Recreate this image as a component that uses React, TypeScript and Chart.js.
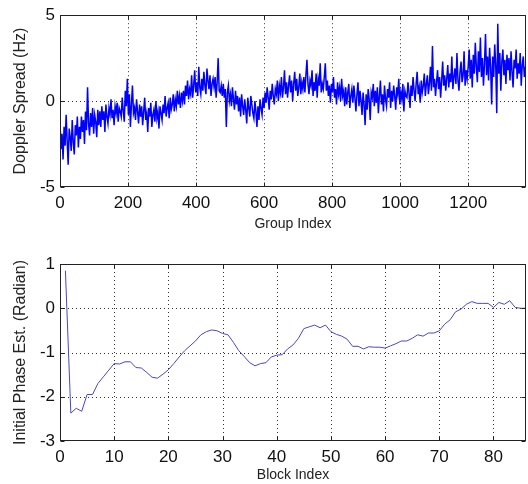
import React, { useEffect, useRef } from "react";
import { Chart, registerables } from "chart.js";

Chart.register(...registerables);

// ---------- data ----------
const GROUP_STEP = 3; // group index spacing of the sampled Doppler spread values
const GROUP_MAX = 1370;
const groupTicks = [0, 200, 400, 600, 800, 1000, 1200];
const dopplerTicks = [-5, 0, 5];

const dopplerSpread = [
  -1.2, -2.8, -1.9, -3.4, -1.5, -2.6, -0.8, -2.3, -3.7, -1.6, -2.1, -2.9, -1.1, -2.4, -3.1, -1.4, -2.0, -0.9, -2.7, -1.5,
  -2.2, -0.9, -1.8, -1.1, -2.5, -0.6, -1.7, 0.8, -1.3, -2.0, -0.7, -1.5, -0.4, -1.9, -0.8, -1.2, -2.1, -0.5, -1.4, -0.6,
  -1.5, -0.3, -1.1, -0.6, -1.8, -0.2, -0.9, -1.3, -0.4, -0.8, 0.1, -1.0, -0.5, -1.4, -0.3, -0.7, -0.1, -1.2, -0.4, -0.6,
  -0.9, 0.2, -0.6, -1.2, 0.6, -0.3, 1.3, -0.8, 0.4, -1.5, -0.2, 0.9, -0.7, -0.4, -1.1, 0.1, -0.6, -1.3, -0.2, -0.9,
  -0.3, -1.4, -0.6, 0.2, -1.1, -0.7, -1.8, -0.4, -0.9, -0.1, -1.5, -0.8, -0.5, -1.2, 0.0, -1.0, -0.6, -1.6, -0.3, -0.7,
  -1.1, -0.2, -0.7, 0.3, -0.9, -0.4, -0.1, -1.0, 0.2, -0.5, -0.2, 0.4, -0.6, 0.1, -0.3, 0.6, -0.2, 0.3, -0.4, 0.5,
  0.0, 0.6, -0.2, 0.9, 0.3, 1.2, 0.1, 0.7, 0.4, 1.5, 0.2, 0.9, 1.8, 0.5, 1.1, 0.3, 2.0, 0.8, 0.4, 1.3,
  0.6, 1.7, 0.9, 0.4, 1.9, 1.2, 0.7, 1.5, 0.3, 1.0, 1.3, 0.8, 1.4, 0.2, 1.1, 2.5, 0.6, 0.5, 0.9, 0.3,
  1.0, 0.2, 0.7, -1.5, 0.5, 0.9, 0.0, 0.4, -0.3, 0.8, 0.1, -0.5, 0.6, -0.2, 0.3, -0.6, 0.2, -0.9, 0.4, -0.3,
  -0.8, 0.1, -0.5, -1.3, 0.2, -0.4, -0.9, 0.3, -0.2, -0.7, -1.0, 0.0, -0.6, -1.5, -0.3, -1.1, 0.1, -0.4, -0.8, 0.2,
  -0.4, 0.5, -0.1, 0.8, 0.2, -0.5, 0.6, 0.1, 1.0, 0.3, -0.2, 0.7, 0.4, 1.2, 0.0, 0.9, 0.5, 1.4, 0.2, 0.8,
  1.8, 0.4, 1.1, 0.2, 0.9, 1.5, 0.5, 1.2, 0.0, 1.0, 1.7, 0.6, 1.3, 0.3, 0.8, 1.6, 0.4, 1.1, 0.7, 1.4,
  0.5, 1.5, 2.4, 1.0, 0.4, 1.2, 0.9, 1.8, 0.3, 1.1, 0.6, 1.6, 0.2, 1.3, 0.9, 2.2, 0.5, 1.0, 0.7, 1.4,
  2.2, 0.6, 1.2, 0.3, 0.9, -0.1, 1.0, 0.5, 1.4, 0.2, 0.7, -0.2, 1.1, 0.4, 0.8, 0.0, 1.3, 0.3, 0.6, -0.3,
  0.8, -0.2, 0.5, 1.0, -0.4, 0.3, 0.7, -0.1, 0.9, 0.2, -0.6, 0.4, 1.1, -0.3, 0.6, 0.0, -0.8, 0.5, -0.2, -1.4,
  0.4, -0.5, 0.7, 0.1, -1.1, 0.5, 0.2, 1.0, -0.3, 0.6, -0.1, 0.8, -0.7, 0.3, 1.2, -0.2, 0.4, -0.6, 0.9, 0.1,
  -0.3, 0.7, 0.2, 1.1, -0.4, 0.6, 0.0, 0.9, 0.3, -0.5, 0.8, 0.4, 1.3, -0.2, 0.5, 0.1, 1.0, -0.6, 0.6, 0.3,
  0.2, 1.1, 0.5, -0.4, 0.9, 0.3, 1.4, 0.6, 0.0, 1.0, 1.7, 0.4, 0.8, -0.1, 1.2, 0.5, 0.9, 1.6, 0.3, 1.0,
  1.5, 0.4, 1.0, 2.0, 0.6, 3.2, 0.8, 1.3, 0.3, 1.1, 1.8, 0.7, 1.4, 0.2, 1.2, 2.3, 0.9, 1.5, 0.6, 1.3,
  2.1, 0.8, 1.6, 1.1, 2.6, 0.7, 1.4, 1.9, 1.0, 2.8, 1.2, 0.6, 1.7, 2.3, 1.1, 1.5, 2.9, 0.9, 1.8, 1.3,
  2.0, 3.0, 1.3, 2.4, 0.8, 2.7, 1.6, 3.4, 2.0, 1.1, 2.9, 1.7, 3.7, 1.4, 2.5, 0.9, 2.2, 3.9, 1.5, 2.6,
  1.2, 3.1, 2.0, -0.2, 2.6, 1.4, 3.3, 2.1, -0.7, 4.5, 1.6, 2.8, 0.6, 2.3, 3.0, 1.5, 2.4, 1.0, 2.7, 1.8,
  2.5, 1.2, 2.9, 1.7, 0.8, 2.4, 1.9, 3.0, 1.3, 2.2, 1.6, 2.8, 0.9, 2.1, 2.6, 1.4, 2.0,
];

const BLOCK_MAX = 86;
const blockTicks = [0, 10, 20, 30, 40, 50, 60, 70, 80];
const phaseTicks = [-3, -2, -1, 0, 1];
const initialPhase = [
  0.85, -2.37, -2.26, -2.33, -1.95, -1.95, -1.7, -1.55, -1.4, -1.25,
  -1.26, -1.21, -1.21, -1.34, -1.35, -1.45, -1.56, -1.58, -1.49, -1.39,
  -1.25, -1.1, -0.96, -0.85, -0.74, -0.6, -0.53, -0.49, -0.51, -0.57,
  -0.6, -0.77, -0.96, -1.09, -1.23, -1.3, -1.25, -1.23, -1.1, -1.06,
  -1.05, -0.92, -0.83, -0.68, -0.46, -0.42, -0.38, -0.44, -0.38, -0.53,
  -0.59, -0.63, -0.7, -0.86, -0.86, -0.92, -0.87, -0.88, -0.88, -0.9,
  -0.85, -0.8, -0.74, -0.74, -0.68, -0.6, -0.63, -0.56, -0.56, -0.51,
  -0.36, -0.26, -0.08, -0.02, 0.09, 0.15, 0.11, 0.11, 0.11, 0.02,
  0.13, 0.09, 0.17, 0.02, 0.0, 0.0,
];

// ---------- styling ----------
const FONT = "'Liberation Sans', Arial, Helvetica, sans-serif";
const AXIS_COLOR = "#222";

const matlabAxesPlugin = {
  id: "matlabAxes",
  beforeDatasetsDraw(chart: any) {
    const { ctx, chartArea: a, scales } = chart;
    ctx.save();
    ctx.strokeStyle = "#333";
    ctx.lineWidth = 1;
    ctx.setLineDash([1, 3]);
    scales.x.ticks.forEach((t: any) => {
      const px = Math.round(scales.x.getPixelForValue(t.value)) + 0.5;
      if (px <= a.left + 1.5 || px >= a.right - 1.5) return;
      ctx.beginPath();
      ctx.moveTo(px, a.top);
      ctx.lineTo(px, a.bottom);
      ctx.stroke();
    });
    scales.y.ticks.forEach((t: any) => {
      const py = Math.round(scales.y.getPixelForValue(t.value)) + 0.5;
      if (py <= a.top + 1.5 || py >= a.bottom - 1.5) return;
      ctx.beginPath();
      ctx.moveTo(a.left, py);
      ctx.lineTo(a.right, py);
      ctx.stroke();
    });
    ctx.restore();
  },
  afterDraw(chart: any) {
    const { ctx, chartArea: a, scales } = chart;
    ctx.save();
    ctx.strokeStyle = AXIS_COLOR;
    ctx.lineWidth = 1;
    ctx.setLineDash([]);
    const l = Math.round(a.left) + 0.5;
    const r = Math.round(a.right) - 0.5;
    const t = Math.round(a.top) + 0.5;
    const b = Math.round(a.bottom) - 0.5;
    ctx.strokeRect(l, t, r - l, b - t);
    const len = 4;
    scales.x.ticks.forEach((tk: any) => {
      const px = Math.round(scales.x.getPixelForValue(tk.value)) + 0.5;
      ctx.beginPath();
      ctx.moveTo(px, b);
      ctx.lineTo(px, b - len);
      ctx.moveTo(px, t);
      ctx.lineTo(px, t + len);
      ctx.stroke();
    });
    scales.y.ticks.forEach((tk: any) => {
      const py = Math.round(scales.y.getPixelForValue(tk.value)) + 0.5;
      ctx.beginPath();
      ctx.moveTo(l, py);
      ctx.lineTo(l + len, py);
      ctx.moveTo(r, py);
      ctx.lineTo(r - len, py);
      ctx.stroke();
    });
    ctx.restore();
  },
};

function makeOptions(p: {
  xMax: number;
  xTicks: number[];
  yTicks: number[];
  xTitle: string;
  yTitle: string;
  xAxisHeight: number;
  xTitlePadBottom: number;
  padTop: number;
}) {
  const tickFont = { family: FONT, size: 17 };
  return {
    responsive: false,
    animation: false,
    devicePixelRatio: 1,
    events: [],
    layout: { padding: { top: p.padTop, right: 2, left: 0, bottom: 0 } },
    plugins: { legend: { display: false }, tooltip: { enabled: false } },
    elements: { point: { radius: 0 }, line: { tension: 0 } },
    scales: {
      x: {
        type: "linear",
        min: 0,
        max: p.xMax,
        grid: { display: false, drawTicks: false },
        border: { display: false },
        ticks: {
          autoSkip: false,
          maxRotation: 0,
          padding: 6,
          font: tickFont,
          color: "#111",
          callback: (v: number) => String(v),
        },
        afterBuildTicks(s: any) {
          s.ticks = p.xTicks.map((v) => ({ value: v }));
        },
        title: {
          display: true,
          text: p.xTitle,
          color: AXIS_COLOR,
          font: { family: FONT, size: 14 },
          padding: { top: 0, bottom: p.xTitlePadBottom },
        },
        afterFit(s: any) {
          s.height = p.xAxisHeight;
        },
      },
      y: {
        type: "linear",
        min: p.yTicks[0],
        max: p.yTicks[p.yTicks.length - 1],
        grid: { display: false, drawTicks: false },
        border: { display: false },
        ticks: {
          autoSkip: false,
          padding: 5,
          font: tickFont,
          color: "#111",
          callback: (v: number) => String(v),
        },
        afterBuildTicks(s: any) {
          s.ticks = p.yTicks.map((v) => ({ value: v }));
        },
        title: {
          display: true,
          text: p.yTitle,
          color: AXIS_COLOR,
          font: { family: FONT, size: 16 },
          padding: { top: 11, bottom: 0 },
        },
        afterFit(s: any) {
          s.width = 60;
        },
      },
    },
  };
}

function DopplerChart() {
  const ref = useRef<HTMLCanvasElement | null>(null);
  useEffect(() => {
    if (!ref.current) return;
    const data = dopplerSpread.map((v, i) => ({ x: i * GROUP_STEP, y: v }));
    const chart = new Chart(ref.current, {
      type: "line",
      data: {
        datasets: [
          {
            data,
            borderColor: "#0000ff",
            borderWidth: 1.5,
            pointRadius: 0,
            fill: false,
          },
        ],
      },
      options: makeOptions({
        xMax: GROUP_MAX,
        xTicks: groupTicks,
        yTicks: dopplerTicks,
        xTitle: "Group Index",
        yTitle: "Doppler Spread (Hz)",
        xAxisHeight: 53,
        xTitlePadBottom: 7,
        padTop: 13,
      }) as any,
      plugins: [matlabAxesPlugin],
    });
    return () => chart.destroy();
  }, []);
  return (
    <canvas
      ref={ref}
      width={528}
      height={240}
      style={{ position: "absolute", left: 0, top: 0, width: 528, height: 240 }}
    />
  );
}

function PhaseChart() {
  const ref = useRef<HTMLCanvasElement | null>(null);
  useEffect(() => {
    if (!ref.current) return;
    const data = initialPhase.map((v, i) => ({ x: i + 1, y: v }));
    const chart = new Chart(ref.current, {
      type: "line",
      data: {
        datasets: [
          {
            data,
            borderColor: "#4848c4",
            borderWidth: 1,
            pointRadius: 0,
            fill: false,
          },
        ],
      },
      options: makeOptions({
        xMax: BLOCK_MAX,
        xTicks: blockTicks,
        yTicks: phaseTicks,
        xTitle: "Block Index",
        yTitle: "Initial Phase Est. (Radian)",
        xAxisHeight: 43,
        xTitlePadBottom: 0,
        padTop: 24,
      }) as any,
      plugins: [matlabAxesPlugin],
    });
    return () => chart.destroy();
  }, []);
  return (
    <canvas
      ref={ref}
      width={528}
      height={244}
      style={{ position: "absolute", left: 0, top: 240, width: 528, height: 244 }}
    />
  );
}

export default function App() {
  return (
    <div
      style={{
        position: "absolute",
        left: 0,
        top: 0,
        width: 528,
        height: 484,
        background: "#fff",
        overflow: "hidden",
      }}
    >
      <DopplerChart />
      <PhaseChart />
    </div>
  );
}
